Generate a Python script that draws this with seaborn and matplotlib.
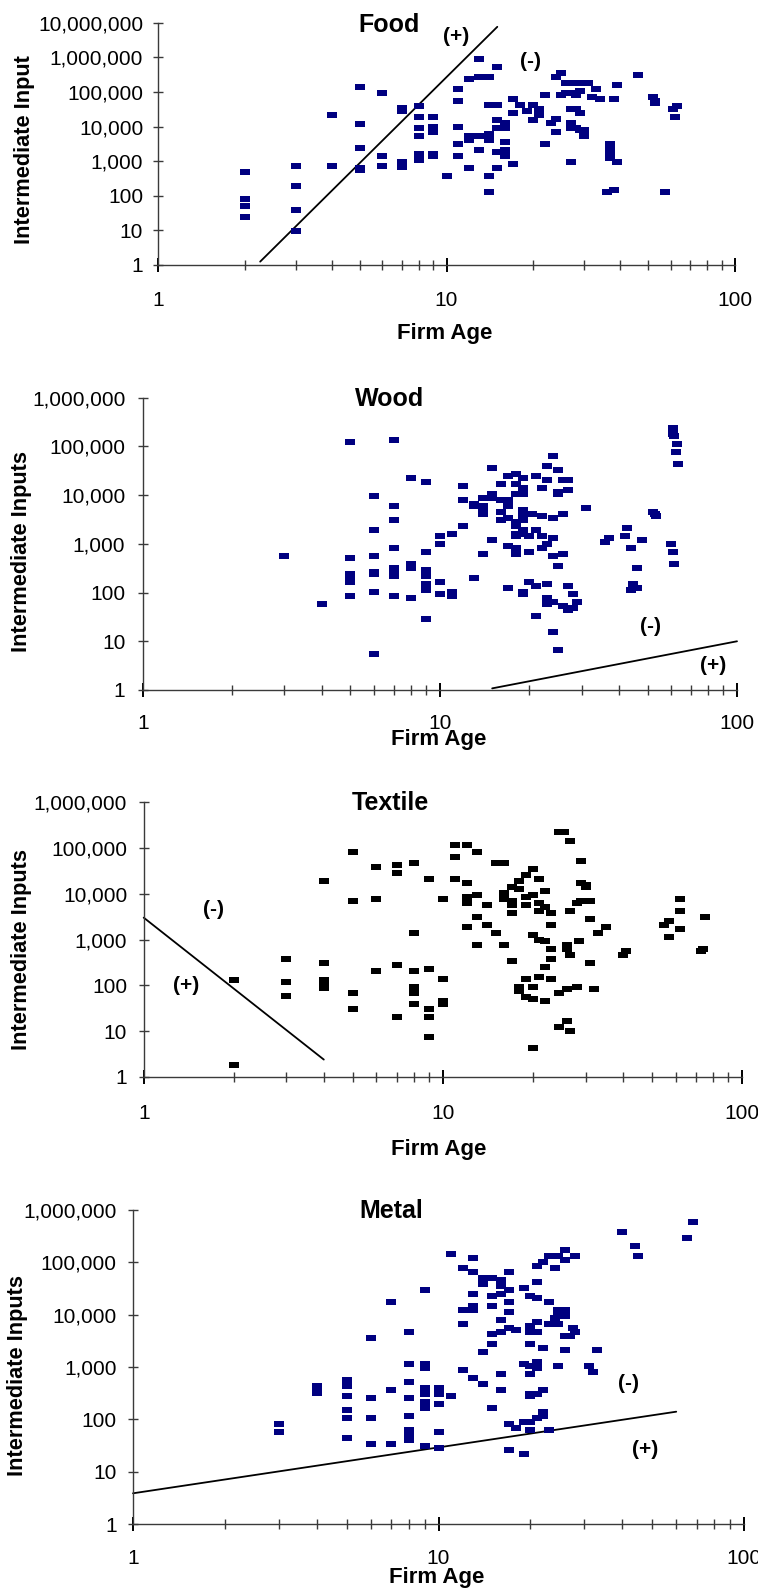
import numpy as np
import pandas as pd
import matplotlib
matplotlib.use("Agg")
import matplotlib.pyplot as plt
import seaborn as sns
from matplotlib.ticker import FuncFormatter, FixedLocator, NullFormatter

sns.set_theme(style="white")
plt.rcParams["font.family"] = ["Liberation Sans", "DejaVu Sans"]

# ---------------- data ----------------
food_age = [2, 2, 2, 2, 3, 3, 3, 3, 4, 4, 5, 5, 5, 5, 5, 6, 6, 6, 7, 7, 7, 7,
            8, 8, 8, 8, 8, 8, 9, 9, 9, 9, 9, 10, 11, 11, 11, 11, 11, 12, 12, 12, 12,
            13, 13, 13, 13, 14, 14, 14, 14, 14, 14, 15, 15, 15, 15, 15, 15,
            16, 16, 16, 16, 16, 17, 17, 17, 18, 19, 20, 20, 21, 21, 22, 22, 23,
            24, 24, 24, 25, 25, 26, 26, 27, 27, 27, 27, 28, 28, 28, 28, 28,
            29, 29, 29, 30, 30, 30, 31, 32, 33, 34, 36, 37, 37, 37, 37, 38, 38,
            39, 39, 46, 52, 53, 53, 57, 61, 62, 63]
food_input = [490, 79, 52, 24, 720, 195, 40, 9.4, 720, 22000, 140000, 11500, 2400, 640, 550,
              95000, 1400, 720, 34000, 28000, 940, 660,
              38000, 19500, 8900, 5200, 1600, 1100, 19500, 9900, 6800, 1600, 1400, 370,
              123000, 56000, 10000, 3100, 1400, 240000, 5200, 4000, 640,
              890000, 270000, 5200, 2100, 270000, 43000, 6000, 4000, 370, 130,
              520000, 43000, 15000, 8900, 1800, 640,
              13000, 8900, 3500, 2100, 1400, 63000, 25000, 830, 43000, 29000, 43000, 15500,
              33000, 22000, 83000, 3100, 13000,
              17000, 6800, 270000, 350000, 83000, 182000, 95000, 33000, 13000, 8900, 940,
              182000, 95000, 83000, 33000, 8900,
              107000, 25000, 7700, 182000, 7700, 5200, 182000, 73000, 123000, 63000, 130,
              3100, 2100, 1600, 1230, 150, 63000,
              160000, 940, 310000, 73000, 56000, 49000, 130, 33000, 19500, 38000]
food_line_age = [2.26, 15.0]
food_line_input = [1.25, 7.6e6]

wood_age = [3, 4, 5, 5, 5, 5, 5, 5, 6, 6, 6, 6, 6, 6, 6, 7, 7, 7, 7, 7, 7, 7, 7,
            8, 8, 8, 8, 9, 9, 9, 9, 9, 9, 9, 10, 10, 10, 10, 11, 11, 11,
            12, 12, 12, 13, 13, 13, 14, 14, 14, 14, 14, 15, 15, 15, 15,
            16, 16, 16, 16, 17, 17, 17, 17, 17, 17,
            18, 18, 18, 18, 18, 18, 18, 18, 18,
            19, 19, 19, 19, 19, 19, 19, 19, 19, 19, 19,
            20, 20, 20, 20.5, 21, 21, 21, 21, 22, 22, 22, 22,
            23, 23, 23, 23, 23, 23, 24, 24, 24, 24, 24, 24,
            25, 25, 25, 25, 25, 26, 26, 26, 26, 27, 27, 27, 27, 28, 28, 29, 31,
            36, 37, 42, 42.5, 44, 44, 44.5, 46, 46, 48, 52, 53, 53.5, 60, 61, 61.5,
            61, 61, 61.5, 63, 62.5, 63.5]
wood_input = [570, 59, 125000, 520, 245, 200, 167, 86, 9700, 1950, 570, 270, 245, 104, 5.6,
              138000, 6000, 3150, 830, 325, 270, 220, 86,
              23000, 390, 325, 78, 19000, 690, 295, 220, 152, 114, 28, 1470, 1000, 167, 95,
              1620, 104, 86, 15500, 8100, 2350, 6700, 6000, 200,
              8900, 6000, 4580, 4150, 630, 36500, 10700, 8900, 1220,
              17000, 8100, 4580, 3150, 25000, 8100, 6000, 3450, 920, 126,
              27500, 17000, 10700, 2850, 2350, 1620, 1470, 830, 630,
              23000, 14200, 11700, 10700, 5000, 4150, 3150, 1950, 1620, 104, 95,
              1470, 690, 167, 4150, 25000, 1950, 138, 33, 14200, 3800, 1470, 830,
              40000, 20700, 1000, 152, 78, 59, 64000, 3450, 1340, 570, 15.7, 65,
              33000, 11700, 10700, 355, 6.7, 20700, 4150, 630, 54, 20700, 12900, 138, 44.5,
              95, 49, 65, 5500,
              1100, 1340, 1470, 2150, 830, 114, 152, 325, 126, 1220, 4580, 4150, 3800,
              1000, 690, 390, 240000, 182000, 166000, 113000, 78000, 44000]
wood_line_age = [15.0, 100.0]
wood_line_input = [1.08, 10.0]

textile_age = [2, 2, 3, 3, 3, 4, 4, 4, 4, 4, 5, 5, 5, 5, 6, 6, 6, 7, 7, 7, 7,
               8, 8, 8, 8, 8, 8, 9, 9, 9, 9, 9, 10, 10, 10, 10, 11, 11, 11,
               12, 12, 12, 12, 12, 13, 13, 13, 13, 14, 14, 15, 15, 16, 16, 16, 16,
               17, 17, 17, 17, 17, 18, 18, 18, 18, 19, 19, 19, 19, 19,
               20, 20, 20, 20, 20, 20, 21, 21, 21, 21, 21, 22, 22, 22, 22, 22,
               23, 23, 23, 23, 23, 24.5, 24.5, 24.5, 25.5, 26, 26, 26, 26,
               26.6, 26.6, 26.6, 26.6, 28, 28, 28.5, 29, 29, 29, 30, 30, 31, 31, 31,
               32, 33, 35, 40, 41, 55, 57, 57, 62, 62, 62, 73, 74, 75]
textile_input = [133, 1.8, 370, 120, 59.5, 18600, 300, 133, 109, 89, 83000, 6800, 67, 30,
                 37500, 7500, 203, 41500, 27800, 273, 20,
                 46000, 1360, 203, 90, 67, 40, 20500, 224, 30, 20, 7.3, 7500, 135, 45, 40,
                 113000, 62000, 20500, 113000, 16800, 8300, 6200, 1850, 83000, 9200, 3030, 745,
                 5600, 2040, 46000, 1360, 46000, 10200, 7500, 745,
                 13800, 6800, 5600, 3720, 333, 18600, 12400, 90, 74, 25000, 8300, 5600, 135, 55,
                 34000, 9200, 1230, 90, 49.5, 4.4, 20500, 6200, 4100, 1000, 149,
                 11200, 5000, 910, 245, 45, 3720, 2040, 610, 370, 135,
                 225000, 67, 12.1, 225000, 745, 610, 82, 16.3,
                 138000, 4100, 450, 10, 90, 6200, 910, 51000, 16800, 6800, 15200, 13800,
                 6800, 2750, 300, 82, 1360, 1850, 450, 550, 2040, 2500, 1110,
                 7500, 4100, 1660, 550, 610, 3030]
textile_line_age = [1.0, 4.0]
textile_line_input = [3000, 2.4]

metal_age = [3, 3, 4, 4, 4, 4, 5, 5, 5, 5, 5, 5, 5, 6, 6, 6, 6, 7, 7, 7,
             8, 8, 8, 8, 8, 8, 8, 8, 9, 9, 9, 9, 9, 9, 9, 9, 10, 10, 10, 10, 10,
             11, 11, 12, 12, 12, 12, 13, 13, 13, 13, 13, 13, 14, 14, 14, 14,
             15, 15, 15, 15, 15, 15, 16, 16, 16, 16, 16, 16, 16,
             17, 17, 17, 17, 17, 17, 17, 18, 18, 19, 19, 19, 19,
             20, 20, 20, 20, 20, 20, 20, 20, 20, 20,
             21, 21, 21, 21, 21, 21, 21, 21, 21, 22, 22, 22, 22, 22,
             23, 23, 23, 23, 24, 24, 24, 24.7, 24.7, 24.7, 24.7, 24.7,
             26, 26, 26, 26, 26, 26, 27, 27.5, 28, 28, 31, 32, 33, 40, 44, 45, 65, 68]
metal_input = [81, 57, 433, 396, 364, 324, 565, 473, 433, 279, 150, 106, 44,
               3560, 256, 106, 34, 17500, 364, 34,
               4650, 1140, 517, 256, 116, 63, 52, 40, 29500, 1140, 955, 396, 304, 215, 165, 31,
               396, 304, 196, 57, 28.4, 279, 145000, 78000, 12300, 6600, 875,
               120000, 65000, 24700, 14700, 12300, 617, 50000, 39000, 1950, 473,
               50000, 22700, 14700, 4250, 2770, 165, 46000, 35000, 24700, 7900, 4650, 735, 364,
               65000, 29500, 17500, 11200, 5560, 81, 25.9, 5100, 68, 32000, 1140, 89, 21.7,
               22700, 6100, 4650, 2770, 1050, 735, 304, 279, 89, 63,
               85000, 42000, 20800, 7200, 4650, 1250, 955, 304, 106, 102000, 2300, 364, 138, 116,
               132000, 17500, 6600, 63, 78000, 8650, 7200, 132000, 12300, 10300, 6600, 1050,
               110000, 174000, 12300, 9400, 3900, 2100, 3900, 5560, 132000, 4650,
               1050, 800, 2100, 380000, 205000, 132000, 292000, 590000]
metal_line_age = [1.0, 60.0]
metal_line_input = [3.86, 140]

panels = [
    dict(name="Food", ylabel="Intermediate Input", age=food_age, val=food_input,
         lage=food_line_age, lval=food_line_input, color="#000080", ytop=7,
         rect=(158, 735, 22.7, 265), title=(389, 25), ylab=(25, 150), xlab=(445, 333),
         xpad=13.5, ypad=7.2,
         notes=[("(+)", 10.8, 4.0e6), ("(-)", 19.5, 7.6e5)]),
    dict(name="Wood", ylabel="Intermediate Inputs", age=wood_age, val=wood_input,
         lage=wood_line_age, lval=wood_line_input, color="#000080", ytop=6,
         rect=(142.7, 737, 397.7, 690), title=(390, 399), ylab=(22, 552), xlab=(439, 739),
         xpad=12.2, ypad=9.0,
         notes=[("(-)", 51, 20), ("(+)", 83, 3.2)]),
    dict(name="Textile", ylabel="Intermediate Inputs", age=textile_age, val=textile_input,
         lage=textile_line_age, lval=textile_line_input, color="#000000", ytop=6,
         rect=(143.7, 742, 802, 1077), title=(390, 803), ylab=(22, 949), xlab=(439, 1150),
         xpad=14.4, ypad=8.4,
         notes=[("(-)", 1.71, 4600), ("(+)", 1.39, 98)]),
    dict(name="Metal", ylabel="Intermediate Inputs", age=metal_age, val=metal_input,
         lage=metal_line_age, lval=metal_line_input, color="#000080", ytop=6,
         rect=(133, 744, 1210, 1524), title=(391, 1211), ylab=(18, 1375), xlab=(437, 1577),
         xpad=13.0, ypad=8.3,
         notes=[("(-)", 42, 490), ("(+)", 47.4, 26.7)]),
]

W, H = 758, 1591
fig = plt.figure(figsize=(W / 100, H / 100), dpi=100)
fig.patch.set_facecolor("white")

marker = [(-1, -0.6), (1, -0.6), (1, 0.6), (-1, 0.6), (-1, -0.6)]
fmt = FuncFormatter(lambda v, p: f"{v:,.0f}")
axis_col = "#3a3a3a"

for p in panels:
    l, r, t, b = p["rect"]
    ax = fig.add_axes([l / W, 1 - b / H, (r - l) / W, (b - t) / H])
    ax.set_facecolor("white")
    ax.set_xscale("log")
    ax.set_yscale("log")
    df = pd.DataFrame({"age": p["age"], "val": p["val"]})
    sns.scatterplot(data=df, x="age", y="val", marker=marker, s=52, color=p["color"],
                    linewidth=0, ax=ax, zorder=3, clip_on=False)
    ax.plot(p["lage"], p["lval"], color="black", lw=1.3, zorder=2, clip_on=False)
    ax.set_xlim(1, 100)
    ax.set_ylim(1, 10 ** p["ytop"])
    ax.grid(False)
    for s in ["top", "right"]:
        ax.spines[s].set_visible(False)
    for s in ["left", "bottom"]:
        ax.spines[s].set_color(axis_col)
        ax.spines[s].set_linewidth(1.0)
    ax.xaxis.set_major_locator(FixedLocator([1, 10, 100]))
    ax.xaxis.set_minor_locator(FixedLocator([2, 3, 4, 5, 6, 7, 8, 9,
                                             20, 30, 40, 50, 60, 70, 80, 90]))
    ax.xaxis.set_major_formatter(FuncFormatter(lambda v, q: f"{v:g}"))
    ax.xaxis.set_minor_formatter(NullFormatter())
    ax.yaxis.set_major_locator(FixedLocator([10 ** k for k in range(p["ytop"] + 1)]))
    ax.yaxis.set_minor_locator(FixedLocator([]))
    ax.yaxis.set_major_formatter(fmt)
    ax.tick_params(axis="x", which="major", direction="inout", length=10, width=1.4,
                   color="black", pad=p["xpad"], labelsize=15, labelcolor="black",
                   bottom=True)
    ax.tick_params(axis="x", which="minor", direction="inout", length=7, width=1.0,
                   color=axis_col, bottom=True)
    ax.tick_params(axis="y", which="major", direction="inout", length=7, width=1.0,
                   color=axis_col, pad=p["ypad"], labelsize=15, labelcolor="black",
                   left=True)
    ax.set_xlabel("")
    ax.set_ylabel("")
    for txt, nx, ny in p["notes"]:
        ax.text(nx, ny, txt, ha="center", va="center", fontsize=15, fontweight="bold",
                color="black")
    tx, ty = p["title"]
    fig.text(tx / W, 1 - ty / H, p["name"], ha="center", va="center", fontsize=18,
             fontweight="bold", color="black")
    yx, yy = p["ylab"]
    fig.text(yx / W, 1 - yy / H, p["ylabel"], ha="center", va="center", rotation=90,
             fontsize=15.7, fontweight="bold", color="black")
    xx, xy = p["xlab"]
    fig.text(xx / W, 1 - xy / H, "Firm Age", ha="center", va="center", fontsize=16,
             fontweight="bold", color="black")

fig.savefig("out.png", dpi=100, facecolor="white")
